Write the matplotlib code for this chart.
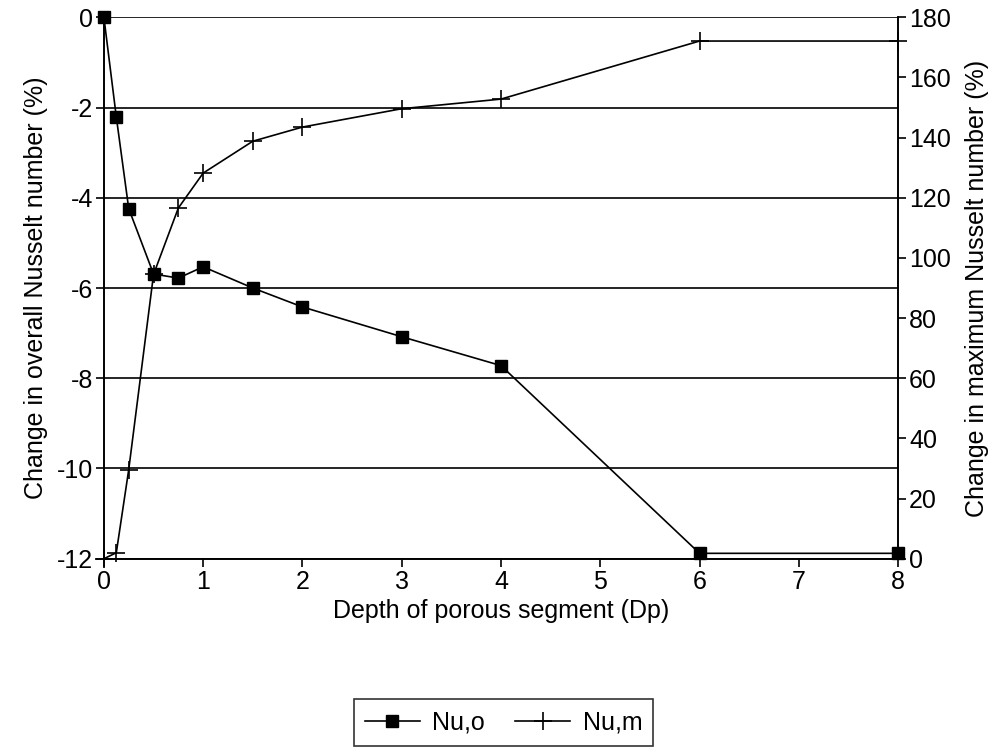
import matplotlib
matplotlib.use('Agg')
import matplotlib.pyplot as plt

plt.rcParams['font.family'] = ['Liberation Sans', 'DejaVu Sans']
plt.rcParams['axes.unicode_minus'] = False

### Data ###
depth = [0, 0.125, 0.25, 0.5, 0.75, 1.0, 1.5, 2, 3, 4, 6, 8]
nu_o = [0, -2.21, -4.24, -5.69, -5.78, -5.53, -6.0, -6.42, -7.08, -7.72, -11.88, -11.88]
nu_m = [0, 2.0, 29.6, 94.5, 116.6, 128.2, 138.8, 143.5, 149.6, 152.8, 172.1, 172.1]

x_ticks = [0, 1, 2, 3, 4, 5, 6, 7, 8]
left_ticks = [0, -2, -4, -6, -8, -10, -12]
right_ticks = [0, 20, 40, 60, 80, 100, 120, 140, 160, 180]

### Figure ###
fig = plt.figure(figsize=(9.99, 7.51), dpi=100)
ax = fig.add_axes([0.104, 0.256, 0.795, 0.721])
ax2 = ax.twinx()

l1, = ax.plot(depth, nu_o, color='black', lw=1.2, marker='s', ms=9,
              mfc='black', mec='black', label='Nu,o', zorder=3, clip_on=False)
l2, = ax2.plot(depth, nu_m, color='black', lw=1.2, marker='+', ms=13,
               mew=1.2, label='Nu,m', zorder=3, clip_on=False)

ax.set_xlim(0, 8)
ax.set_ylim(-12, 0)
ax2.set_ylim(0, 180)
ax.set_xticks(x_ticks)
ax.set_yticks(left_ticks)
ax2.set_yticks(right_ticks)

ax.grid(axis='y', color='black', lw=1.2)
ax.set_axisbelow(True)

for a in (ax, ax2):
    a.spines['top'].set_visible(False)
    for s in a.spines.values():
        s.set_linewidth(1.2)
    a.tick_params(direction='out', width=1.2, length=6, labelsize=18,
                  colors='black', pad=2)

ax.set_xlabel('Depth of porous segment (Dp)', fontsize=18, labelpad=4)
ax.set_ylabel('Change in overall Nusselt number (%)', fontsize=18, labelpad=6)
ax2.set_ylabel('Change in maximum Nusselt number (%)', fontsize=18, labelpad=10)

leg = fig.legend(handles=[l1, l2], loc='center', bbox_to_anchor=(0.504, 0.038),
                 ncol=2, fontsize=18, frameon=True, fancybox=False,
                 edgecolor='black', handlelength=2.2, columnspacing=1.2,
                 handletextpad=0.5, borderpad=0.45)
leg.get_frame().set_linewidth(1.2)

fig.savefig('out.png', dpi=100)
